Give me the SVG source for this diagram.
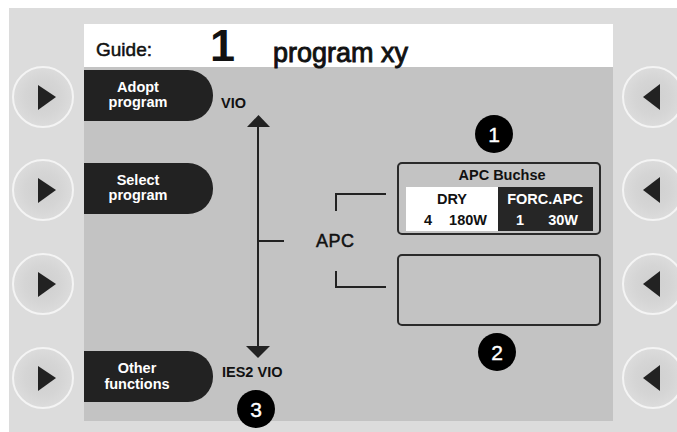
<svg xmlns="http://www.w3.org/2000/svg" width="677" height="432" viewBox="0 0 677 432">
<defs>
<radialGradient id="btnGrad" cx="0.5" cy="0.5" r="0.5">
<stop offset="0" stop-color="#cfcfcf"/>
<stop offset="0.6" stop-color="#d5d5d5"/>
<stop offset="1" stop-color="#dcdcdc"/>
</radialGradient>
</defs>
<style>
text{font-family:"Liberation Sans",Arial,sans-serif;}
.btn{fill:url(#btnGrad);stroke:#f4f4f4;stroke-width:2;}
.tri{fill:#222;}
.tab{fill:#222;}
.tabt{fill:#fff;font-weight:bold;font-size:14.5px;text-anchor:middle;}
.lbl{fill:#111;font-weight:bold;font-size:14.5px;}
.wl{fill:#fff;font-weight:bold;font-size:14.5px;}
.ln{stroke:#222;stroke-width:2;fill:none;}
.num{fill:#000;}
.numt{fill:#fff;font-size:21px;text-anchor:middle;stroke:#fff;stroke-width:0.4;}
.box{fill:none;stroke:#2a2a2a;stroke-width:2;}
.med{fill:#111;stroke:#111;stroke-width:0.5;}
</style>
<rect x="0" y="0" width="677" height="432" fill="#ffffff"/>
<rect x="9" y="8" width="668" height="424" fill="#dcdcdc"/>
<rect x="84" y="67" width="529" height="354" fill="#c3c3c3"/>
<rect x="84" y="24" width="529" height="43" fill="#ffffff"/>
<text class="med" x="96" y="56" font-size="19">Guide:</text>
<text x="210" y="61" font-size="45" font-weight="bold" fill="#111">1</text>
<text class="med" x="273" y="62" font-size="27" style="stroke-width:0.9">program xy</text>

<g id="btn-l1"><circle class="btn" cx="43" cy="97" r="30"/><polygon class="tri" points="38,85 38,110 56,97"/></g>
<g id="btn-l2"><circle class="btn" cx="43" cy="190" r="30"/><polygon class="tri" points="38,178 38,203 56,190"/></g>
<g id="btn-l3"><circle class="btn" cx="43" cy="284" r="30"/><polygon class="tri" points="38,272 38,297 56,284"/></g>
<g id="btn-l4"><circle class="btn" cx="43" cy="378" r="30"/><polygon class="tri" points="38,366 38,391 56,378"/></g>
<g id="btn-r1"><circle class="btn" cx="653" cy="97" r="30"/><polygon class="tri" points="660,84 660,110 643,97"/></g>
<g id="btn-r2"><circle class="btn" cx="653" cy="190" r="30"/><polygon class="tri" points="660,177 660,203 643,190"/></g>
<g id="btn-r3"><circle class="btn" cx="653" cy="284" r="30"/><polygon class="tri" points="660,271 660,297 643,284"/></g>
<g id="btn-r4"><circle class="btn" cx="653" cy="378" r="30"/><polygon class="tri" points="660,365 660,391 643,378"/></g>

<g id="tab-adopt"><path class="tab" d="M84,70 H188 A25,25 0 0 1 213,95 V96 A25,25 0 0 1 188,121 H84 Z"/><text class="tabt" x="138" y="92">Adopt</text><text class="tabt" x="138" y="107">program</text></g>
<g id="tab-select"><path class="tab" d="M84,163 H188 A25,25 0 0 1 213,188 V189 A25,25 0 0 1 188,214 H84 Z"/><text class="tabt" x="138" y="185">Select</text><text class="tabt" x="138" y="200">program</text></g>
<g id="tab-other"><path class="tab" d="M84,351 H188 A25,25 0 0 1 213,376 V377 A25,25 0 0 1 188,402 H84 Z"/><text class="tabt" x="137" y="373">Other</text><text class="tabt" x="137" y="389">functions</text></g>

<g id="connectors">
<line class="ln" x1="258" y1="126" x2="258" y2="348"/>
<polygon class="tri" points="247,127 270,127 258.5,115"/>
<polygon class="tri" points="246,346 270,346 258,358"/>
<line class="ln" x1="258" y1="241" x2="284" y2="241"/>
<polyline class="ln" points="336,211 336,194 386,194"/>
<polyline class="ln" points="336,271 336,287 386,287"/>
</g>

<text class="lbl" x="221" y="108">VIO</text>
<text class="lbl" x="222" y="377">IES2 VIO</text>
<text class="med" x="316" y="247" font-size="18" letter-spacing="0.5">APC</text>

<g id="box-apc">
<rect class="box" x="398" y="163" width="202" height="71" rx="4"/>
<text class="lbl" x="502" y="180" text-anchor="middle">APC Buchse</text>
<rect x="406" y="187" width="92" height="44" fill="#ffffff"/>
<rect x="498" y="187" width="95" height="44" fill="#262626"/>
<text class="lbl" x="452" y="204" text-anchor="middle">DRY</text>
<text class="lbl" x="424" y="225">4</text>
<text class="lbl" x="487" y="225" text-anchor="end">180W</text>
<text class="wl" x="545" y="204" text-anchor="middle">FORC.APC</text>
<text class="wl" x="516" y="225">1</text>
<text class="wl" x="578" y="225" text-anchor="end">30W</text>
</g>
<g id="box-2"><rect class="box" x="398" y="255" width="202" height="70" rx="4"/></g>

<g id="num1"><circle class="num" cx="494" cy="134" r="19"/><text class="numt" x="494" y="142">1</text></g>
<g id="num2"><circle class="num" cx="497" cy="352" r="19"/><text class="numt" x="497" y="360">2</text></g>
<g id="num3"><circle class="num" cx="256" cy="409" r="19"/><text class="numt" x="256" y="417">3</text></g>
</svg>
